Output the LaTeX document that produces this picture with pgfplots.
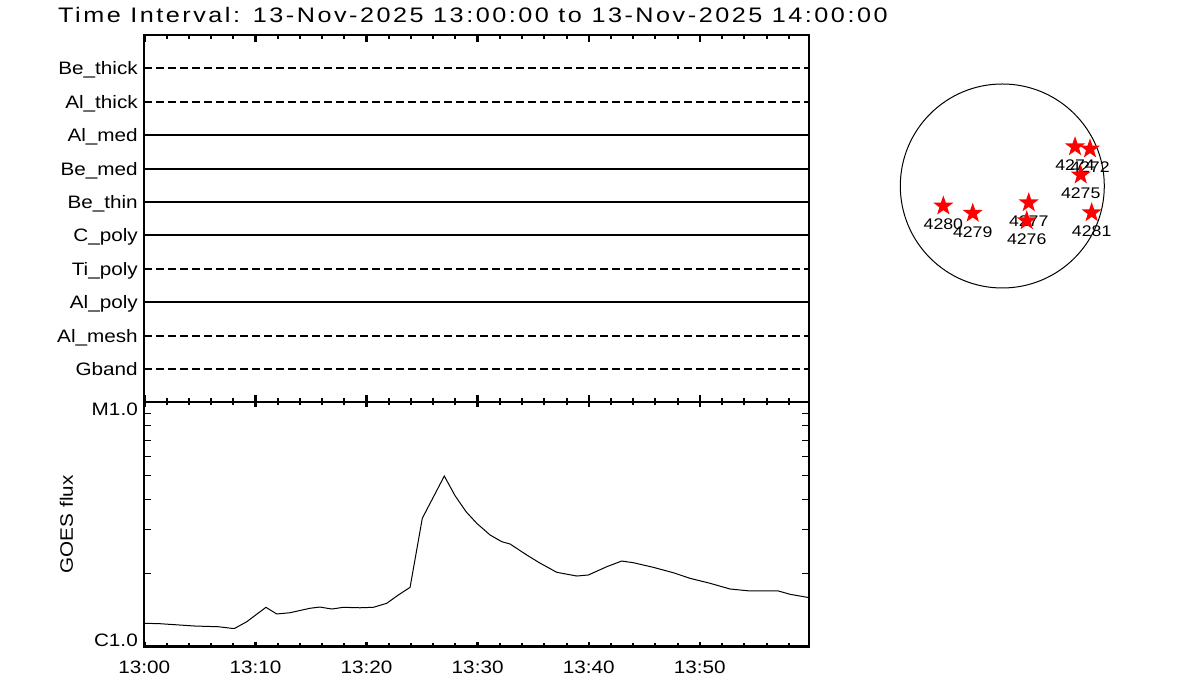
\documentclass[border=0pt]{standalone}
\usepackage{pgfplots}
\pgfplotsset{compat=1.18}
\usepackage{fontspec}
\setmainfont{Liberation Sans}[FakeStretch=1.15]
\newfontfamily\titlefont{Liberation Sans}[FakeStretch=1.2,LetterSpace=12]

\pgfdeclareplotmark{fstar}{%
  \pgfpathmoveto{\pgfpointpolar{90}{\pgfplotmarksize}}%
  \pgfpathlineto{\pgfpointpolar{126}{0.4\pgfplotmarksize}}%
  \pgfpathlineto{\pgfpointpolar{162}{\pgfplotmarksize}}%
  \pgfpathlineto{\pgfpointpolar{198}{0.4\pgfplotmarksize}}%
  \pgfpathlineto{\pgfpointpolar{234}{\pgfplotmarksize}}%
  \pgfpathlineto{\pgfpointpolar{270}{0.4\pgfplotmarksize}}%
  \pgfpathlineto{\pgfpointpolar{306}{\pgfplotmarksize}}%
  \pgfpathlineto{\pgfpointpolar{342}{0.4\pgfplotmarksize}}%
  \pgfpathlineto{\pgfpointpolar{18}{\pgfplotmarksize}}%
  \pgfpathlineto{\pgfpointpolar{54}{0.4\pgfplotmarksize}}%
  \pgfpathclose\pgfusepathqfill}

\pgfplotstableread{
t flux
0     1.245e-6
1.40  1.240e-6
4.56  1.213e-6
6.66  1.205e-6
7.87  1.187e-6
8.14  1.187e-6
9.22  1.263e-6
10.95 1.447e-6
11.92 1.359e-6
13.11 1.375e-6
14.91 1.434e-6
15.81 1.451e-6
16.87 1.424e-6
17.91 1.447e-6
19.41 1.441e-6
20.61 1.447e-6
21.82 1.503e-6
22.86 1.625e-6
23.92 1.747e-6
25.02 3.350e-6
27.00 4.990e-6
27.97 4.145e-6
28.96 3.565e-6
29.92 3.195e-6
31.12 2.862e-6
32.17 2.687e-6
32.92 2.629e-6
34.42 2.370e-6
35.55 2.204e-6
37.12 2.013e-6
38.92 1.944e-6
39.96 1.963e-6
41.62 2.122e-6
42.97 2.239e-6
44.01 2.204e-6
45.81 2.110e-6
47.61 2.005e-6
49.12 1.902e-6
50.92 1.815e-6
52.72 1.720e-6
54.52 1.688e-6
57.07 1.688e-6
58.12 1.636e-6
59.68 1.590e-6
59.85 1.585e-6
}\goesdata

\pgfplotstableread{
x y lab
-560 -190 4280
-281 -259 4279
251 -159 4277
232 -330 4276
691 373 4274
833 352 4272
745 105 4275
849 -254 4281
}\ardata

\begin{document}
\begin{tikzpicture}[x=1pt,y=1pt]
\useasboundingbox (0,0) rectangle (1200,700);

% title
\node[anchor=base west, inner sep=0pt] at (58,677) {\titlefont\fontsize{21}{24}\selectfont Time Interval: 13-Nov-2025 13:00:00 to 13-Nov-2025 14:00:00};

% upper panel
\begin{axis}[
  at={(144.3pt,297.7pt)}, anchor=south west,
  scale only axis, width=665pt, height=367.3pt,
  xmin=0, xmax=59.85, ymin=0, ymax=11,
  axis line style={line width=2.2pt},
  xtick={0,10,20,30,40,50}, xticklabels={},
  minor xtick={2,4,6,8,12,14,16,18,22,24,26,28,32,34,36,38,42,44,46,48,52,54,56,58},
  xtick pos=both, tick align=inside,
  major tick length=7.5pt, minor tick length=4.5pt,
  every major tick/.style={line width=2.5pt, black},
  every minor tick/.style={line width=2pt, black},
  ytick={1,...,10},
  yticklabels={Gband,Al\_mesh,Al\_poly,Ti\_poly,C\_poly,Be\_thin,Be\_med,Al\_med,Al\_thick,Be\_thick},
  ytick style={draw=none},
  typeset ticklabels with strut,
  yticklabel style={font=\fontsize{18}{20}\selectfont, yshift=-2.5pt, xshift=-3pt},
  clip=false,
]
\addplot[black, line width=2pt, dash pattern=on 7.5pt off 4.5pt] coordinates {(0,10) (59.85,10)};
\addplot[black, line width=2pt, dash pattern=on 7.5pt off 4.5pt] coordinates {(0,9) (59.85,9)};
\addplot[black, line width=2pt] coordinates {(0,8) (59.85,8)};
\addplot[black, line width=2pt] coordinates {(0,7) (59.85,7)};
\addplot[black, line width=2pt] coordinates {(0,6) (59.85,6)};
\addplot[black, line width=2pt] coordinates {(0,5) (59.85,5)};
\addplot[black, line width=2pt, dash pattern=on 7.5pt off 4.5pt] coordinates {(0,4) (59.85,4)};
\addplot[black, line width=2pt] coordinates {(0,3) (59.85,3)};
\addplot[black, line width=2pt, dash pattern=on 7.5pt off 4.5pt] coordinates {(0,2) (59.85,2)};
\addplot[black, line width=2pt, dash pattern=on 7.5pt off 4.5pt] coordinates {(0,1) (59.85,1)};
\end{axis}

% lower panel: y axis and curve
\begin{axis}[
  at={(144.3pt,53.5pt)}, anchor=south west,
  scale only axis, width=665pt, height=244.2pt,
  xmin=0, xmax=59.85, ymin=1e-6, ymax=1e-5,
  ymode=log,
  axis line style={line width=2.2pt},
  xtick=\empty,
  ytick={1e-6}, yticklabels={C1.0},
  extra y ticks={1e-5}, extra y tick labels={M1.0},
  extra y tick style={yticklabel style={yshift=-13pt}},
  minor ytick={2e-6,3e-6,4e-6,5e-6,6e-6,7e-6,8e-6,9e-6},
  ytick pos=both, tick align=inside,
  major tick length=7pt, minor tick length=7pt,
  every major tick/.style={line width=1pt, black},
  every minor tick/.style={line width=1pt, black},
  yticklabel style={font=\fontsize{18}{20}\selectfont, yshift=6.5pt, xshift=-3pt},
  ylabel={GOES flux},
  every axis y label/.style={at={(axis description cs:-0.117,0.5)}, rotate=90, anchor=center, font=\fontsize{18}{20}\selectfont},
]
\addplot[black, line width=1pt] table[x=t, y=flux] {\goesdata};
\end{axis}

% lower panel: x ticks
\begin{axis}[
  at={(144.3pt,53.5pt)}, anchor=south west,
  scale only axis, width=665pt, height=244.2pt,
  xmin=0, xmax=59.85, ymin=0, ymax=1,
  axis line style={line width=2.2pt},
  ytick=\empty,
  xtick={0,10,20,30,40,50},
  xticklabels={13:00,13:10,13:20,13:30,13:40,13:50},
  minor xtick={2,4,6,8,12,14,16,18,22,24,26,28,32,34,36,38,42,44,46,48,52,54,56,58},
  xtick pos=both, tick align=inside,
  major tick length=4.5pt, minor tick length=3pt,
  every major tick/.style={line width=2.5pt, black},
  every minor tick/.style={line width=2pt, black},
  xticklabel style={font=\fontsize{18}{20}\selectfont, anchor=north, yshift=-11pt},
]
\end{axis}

% solar disk
\begin{axis}[
  at={(880pt,400pt)}, anchor=south west,
  scale only axis, width=244pt, height=220pt,
  xmin=-1161.9, xmax=1156.2, ymin=-1083, ymax=1007,
  hide axis, clip=false,
]
\draw[black, line width=1pt] (axis cs:0,0) circle[radius=102pt];
\addplot[only marks, mark=fstar, mark size=10.5pt, color=red,
  nodes near coords, point meta=explicit symbolic,
  every node near coord/.append style={anchor=center, yshift=-18.5pt, black, font=\fontsize{15.4}{17}\selectfont}]
  table[x=x, y=y, meta=lab] {\ardata};
\end{axis}
\end{tikzpicture}
\end{document}
